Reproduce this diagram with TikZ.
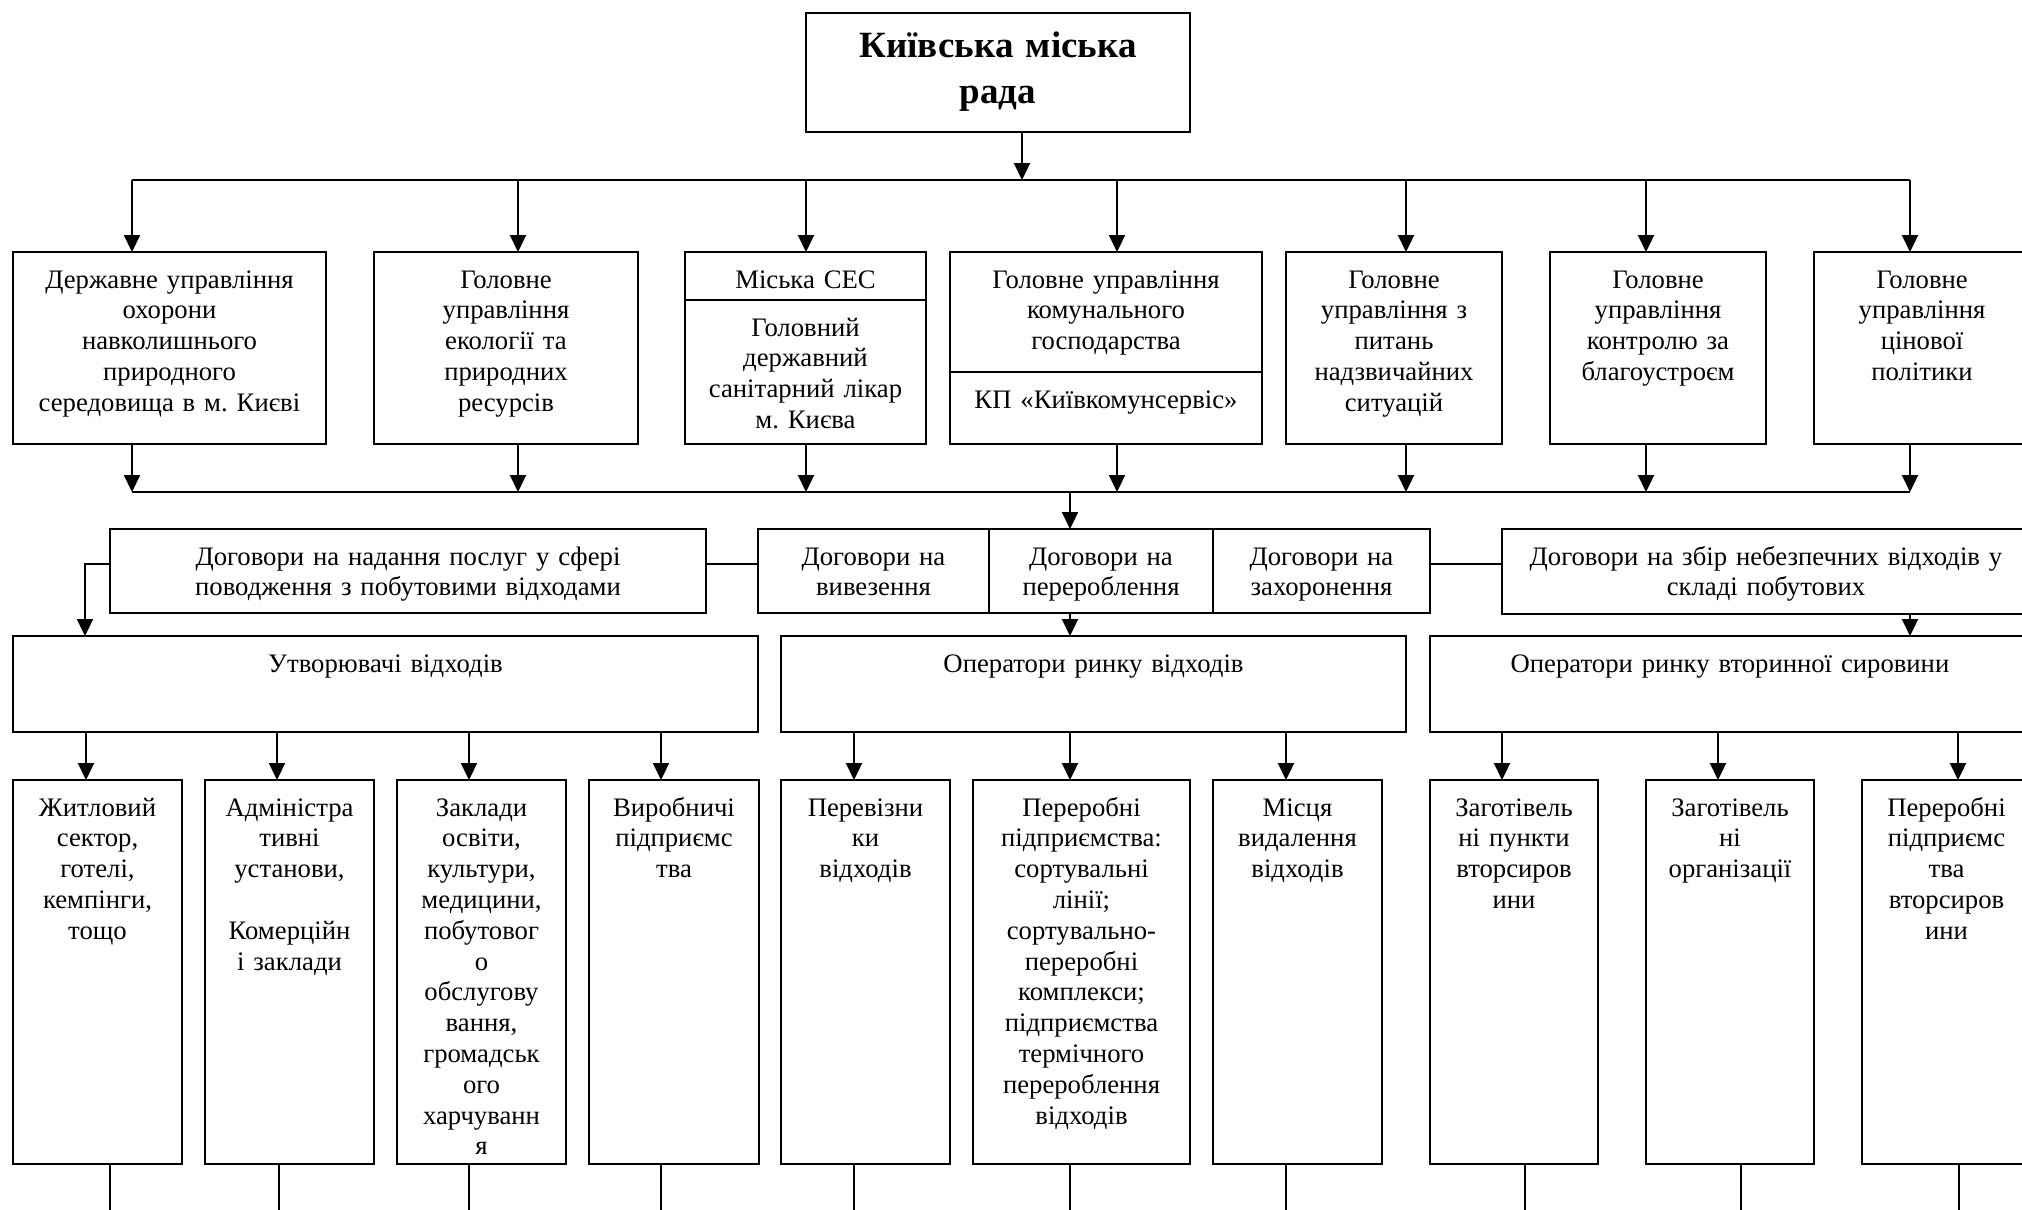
\documentclass[tikz,border=0pt]{standalone}
\usepackage{fontspec}
\setmainfont{Liberation Serif}
\usetikzlibrary{arrows.meta}
\newcommand\bxfont{\fontsize{26.7pt}{30.8pt}\selectfont}
\newcommand\ttlfont{\fontsize{37pt}{46pt}\selectfont\bfseries}
\frenchspacing
\begin{document}
\begin{tikzpicture}[x=1pt,y=-1pt,
  bx/.style 2 args={draw, line width=2.2pt, inner sep=0pt, outer sep=0pt, anchor=north west,
     text width=#1pt, align=center, text height=36pt, text depth=#2pt, font=\bxfont},
  arr/.style={line width=2.2pt, -{Triangle[length=17pt,width=16pt]}},
  ln/.style={line width=2.4pt},
  tl/.style={line width=1.6pt}]
\useasboundingbox (0,0) rectangle (2022,1210);
\clip (0,0) rectangle (2022,1210);
\fill[white] (0,0) rectangle (2022,1210);

% title
\node[bx={384}{75}, text height=44pt, font=\ttlfont] (title) at (806,13) {Київська міська\\рада};

% row 2
\node[bx={313}{156}] (b1) at (13,252) {Державне управління\\охорони\\навколишнього\\природного\\середовища в м. Києві};
\node[bx={264}{156}] (b2) at (374,252) {Головне\\управління\\екології та\\природних\\ресурсів};
\node[bx={241}{12}] (b3t) at (685,252) {Міська СЕС};
\node[bx={241}{108}] (b3b) at (685,300) {Головний\\державний\\санітарний лікар\\м. Києва};
\node[bx={312}{84}] (b4t) at (950,252) {Головне управління\\комунального\\господарства};
\node[bx={312}{36}] (b4b) at (950,372) {КП «Київкомунсервіс»};
\node[bx={216}{156}] (b5) at (1286,252) {Головне\\управління з\\питань\\надзвичайних\\ситуацій};
\node[bx={216}{156}] (b6) at (1550,252) {Головне\\управління\\контролю за\\благоустроєм};
\node[bx={216}{156}] (b7) at (1814,252) {Головне\\управління\\цінової\\політики};

% row 3 contracts
\node[bx={596}{48}] (cA) at (110,529) {Договори на надання послуг у сфері\\поводження з побутовими відходами};
\node[bx={231}{48}] (cB1) at (758,529) {Договори на\\вивезення};
\node[bx={224}{48}] (cB2) at (989,529) {Договори на\\перероблення};
\node[bx={217}{48}] (cB3) at (1213,529) {Договори на\\захоронення};
\node[bx={528}{49}] (cC) at (1502,529) {Договори на збір небезпечних відходів у\\складі побутових};

% row 4 groups
\node[bx={745}{60}] (gU) at (13,636) {Утворювачі відходів};
\node[bx={625}{60}] (gO) at (781,636) {Оператори ринку відходів};
\node[bx={600}{60}] (gV) at (1430,636) {Оператори ринку вторинної сировини};

% row 5
\node[bx={169}{348}] (r1) at (13,780) {Житловий\\сектор,\\готелі,\\кемпінги,\\тощо};
\node[bx={169}{348}] (r2) at (205,780) {Адміністра\\тивні\\установи,\\\mbox{}\\Комерційн\\і заклади};
\node[bx={169}{348}] (r3) at (397,780) {Заклади\\освіти,\\культури,\\медицини,\\побутовог\\о\\обслугову\\вання,\\громадськ\\ого\\харчуванн\\я};
\node[bx={170}{348}] (r4) at (589,780) {Виробничі\\підприємс\\тва};
\node[bx={169}{348}] (r5) at (781,780) {Перевізни\\ки\\відходів};
\node[bx={217}{348}] (r6) at (973,780) {Переробні\\підприємства:\\сортувальні\\лінії;\\сортувально-\\переробні\\комплекси;\\підприємства\\термічного\\перероблення\\відходів};
\node[bx={169}{348}] (r7) at (1213,780) {Місця\\видалення\\відходів};
\node[bx={168}{348}] (r8) at (1430,780) {Заготівель\\ні пункти\\вторсиров\\ини};
\node[bx={168}{348}] (r9) at (1646,780) {Заготівель\\ні\\організації};
\node[bx={169}{348}] (r10) at (1862,780) {Переробні\\підприємс\\тва\\вторсиров\\ини};

% helper coordinates
\coordinate (bus1) at (0,180);
\coordinate (bus2) at (0,492);
\coordinate (ky) at (0,564);
\coordinate (edge) at (0,1215);
\coordinate (xT) at (1022,0);
\coordinate (x1) at (132,0);
\coordinate (x2) at (518,0);
\coordinate (x3) at (806,0);
\coordinate (x4) at (1117,0);
\coordinate (x5) at (1406,0);
\coordinate (x6) at (1646,0);
\coordinate (x7) at (1910,0);
\coordinate (xm) at (1070,0);
\coordinate (xk) at (85,0);
\coordinate (a1) at (86,0);
\coordinate (a2) at (277,0);
\coordinate (a3) at (469,0);
\coordinate (a4) at (661,0);
\coordinate (a5) at (854,0);
\coordinate (a6) at (1070,0);
\coordinate (a7) at (1286,0);
\coordinate (a8) at (1502,0);
\coordinate (a9) at (1718,0);
\coordinate (a10) at (1958,0);
\coordinate (e1) at (110,0);
\coordinate (e2) at (279,0);
\coordinate (e3) at (469,0);
\coordinate (e4) at (661,0);
\coordinate (e5) at (854,0);
\coordinate (e6) at (1070,0);
\coordinate (e7) at (1286,0);
\coordinate (e8) at (1525,0);
\coordinate (e9) at (1741,0);
\coordinate (e10) at (1959,0);

% connectors
\draw[arr] (title.south -| xT) -- (bus1 -| xT);
\draw[ln] (bus1 -| x1) -- (bus1 -| x7);
\foreach \c/\n in {x1/b1,x2/b2,x3/b3t,x4/b4t,x5/b5,x6/b6,x7/b7}
  \draw[arr] (bus1 -| \c) -- (\n.north -| \c);
\foreach \c/\n in {x1/b1,x2/b2,x3/b3b,x4/b4b,x5/b5,x6/b6,x7/b7}
  \draw[arr] (\n.south -| \c) -- (bus2 -| \c);
\draw[ln] (bus2 -| x1) -- (bus2 -| x7);
\draw[arr] (bus2 -| xm) -- (cB2.north -| xm);
\draw[arr] (cA.west |- ky) -| (gU.north -| xk);
\draw[ln] (cA.east |- ky) -- (cB1.west |- ky);
\draw[ln] (cB3.east |- ky) -- (cC.west |- ky);
\draw[arr] (cB2.south -| xm) -- (gO.north -| xm);
\draw[arr] (cC.south -| x7) -- (gV.north -| x7);
\foreach \c/\n in {a1/r1,a2/r2,a3/r3,a4/r4}
  \draw[arr] (gU.south -| \c) -- (\n.north -| \c);
\foreach \c/\n in {a5/r5,a6/r6,a7/r7}
  \draw[arr] (gO.south -| \c) -- (\n.north -| \c);
\foreach \c/\n in {a8/r8,a9/r9,a10/r10}
  \draw[arr] (gV.south -| \c) -- (\n.north -| \c);
\foreach \c/\n in {e1/r1,e2/r2,e3/r3,e4/r4,e5/r5,e6/r6,e7/r7,e8/r8,e9/r9,e10/r10}
  \draw[tl] (\n.south -| \c) -- (edge -| \c);
\end{tikzpicture}
\end{document}
